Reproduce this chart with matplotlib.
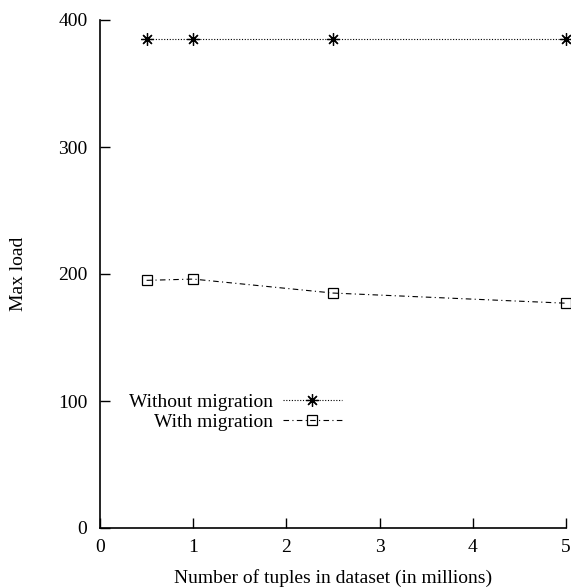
#-----------------------------------------------
# Max load vs dataset size (with / without migration)
#-----------------------------------------------
import numpy as np
import matplotlib.pyplot as plt

plt.rcParams['font.family'] = ['Liberation Serif', 'DejaVu Serif']

#-----------------------------------------------
# Data
#-----------------------------------------------
tuples = np.array([0.5, 1, 2.5, 5])                 # millions of tuples
load_without = np.array([385, 385, 385, 385])
load_with = np.array([195, 196, 185, 177])

x_ticks = [0, 1, 2, 3, 4, 5]
y_ticks = [0, 100, 200, 300, 400]

#-----------------------------------------------
# Figure
#-----------------------------------------------
fig = plt.figure(figsize=(5.71, 5.87), dpi=100)
ax = fig.add_axes([100 / 571, 1 - 528 / 587, 466 / 571, 508 / 587])

ax.plot(tuples, load_without, color="black", linewidth=0.8, linestyle=(0, (1, 1.5)),
        marker=(8, 2, 0), markersize=9, markeredgewidth=0.9, clip_on=False,
        label="Without migration")
ax.plot(tuples, load_with, color="black", linewidth=0.8, linestyle=(0, (5, 3, 1, 3)),
        marker="s", markersize=7.5, markerfacecolor="none", markeredgewidth=0.9,
        clip_on=False, label="With migration")

ax.set_xlim(0, 5)
ax.set_ylim(0, 400)
ax.set_xticks(x_ticks)
ax.set_yticks(y_ticks)
ax.tick_params(direction="in", length=7, width=1, labelsize=14, pad=8)
ax.tick_params(axis="y", pad=9)

for s in ["top", "right"]:
    ax.spines[s].set_visible(False)
for s in ["left", "bottom"]:
    ax.spines[s].set_linewidth(1.2)

ax.set_xlabel("Number of tuples in dataset (in millions)", fontsize=14, labelpad=9)
ax.set_ylabel("Max load", fontsize=14)
ax.yaxis.set_label_coords(-0.157, 0.5)

leg = ax.legend(loc="upper right", bbox_to_anchor=(0.535, 0.28), frameon=False,
                markerfirst=False, fontsize=14, handlelength=3.0,
                labelspacing=0.1, handletextpad=0.55, borderaxespad=0)

fig.savefig("out.png", dpi=100)
